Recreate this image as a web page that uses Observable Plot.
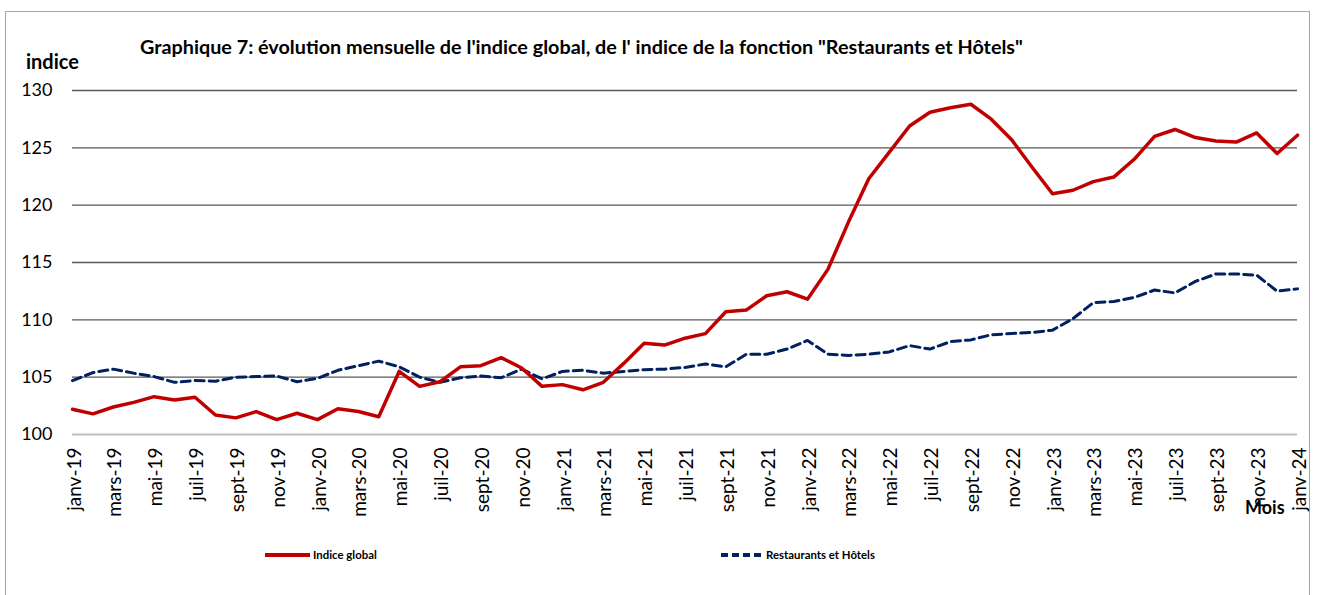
<!DOCTYPE html>
<html><head><meta charset="utf-8">
<script src="https://cdn.jsdelivr.net/npm/d3@7"></script>
<script src="https://cdn.jsdelivr.net/npm/@observablehq/plot@0.6"></script>
<style>
body{margin:0;background:#fff;}
#wrap{position:relative;width:1318px;height:595px;overflow:hidden;font-family:Lato,sans-serif;color:#000;}
#frame{position:absolute;left:5px;top:11px;width:1305px;height:640px;border:1px solid #a6a6a6;box-sizing:border-box;}
#chart{position:absolute;left:0;top:0;}
.t{position:absolute;white-space:nowrap;font-weight:bold;line-height:1;}
#title{left:140px;top:37px;font-size:19.8px;}
#ylab{left:26px;top:51px;font-size:20px;}
#xlab{left:1245px;top:498px;font-size:18px;}
.leg{position:absolute;font-weight:bold;font-size:11.4px;line-height:1;white-space:nowrap;display:flex;align-items:center;}
.leg svg{margin-right:3px;}
</style></head>
<body><div id="wrap">
<div id="frame"></div>
<div id="chart"></div>
<div class="t" id="title">Graphique 7: évolution mensuelle de l'indice global, de l' indice de la fonction "Restaurants et Hôtels"</div>
<div class="t" id="ylab">indice</div>
<div class="t" id="xlab">Mois</div>
<div class="leg" id="leg1" style="left:265px;top:549px;"></div>
<div class="leg" id="leg2" style="left:721px;top:549px;"></div>
</div>
<script>
const monthNames = ["janv","févr","mars","avr","mai","juin","juil","août","sept","oct","nov","déc"];
const years = ["19","20","21","22","23","24"];
const months = [];
years.forEach(y => monthNames.forEach(m => months.push(m + "-" + y)));
months.length = 61; // janv-19 .. janv-24

const indiceGlobal = [
  102.2, 101.8, 102.4, 102.8, 103.3, 103.0, 103.25, 101.7, 101.45, 102.0, 101.3, 101.85,
  101.3, 102.25, 102.0, 101.55, 105.5, 104.2, 104.6, 105.9, 106.0, 106.7, 105.8, 104.2,
  104.35, 103.9, 104.55, 106.2, 107.95, 107.8, 108.4, 108.8, 110.7, 110.85, 112.1, 112.45,
  111.8, 114.4, 118.5, 122.3, 124.6, 126.9, 128.1, 128.5, 128.8, 127.5, 125.7, 123.3,
  121.0, 121.3, 122.05, 122.45, 124.0, 126.0, 126.6, 125.9, 125.6, 125.5, 126.3, 124.5,
  126.1
];
const restaurantsHotels = [
  104.7, 105.4, 105.7, 105.35, 105.05, 104.55, 104.7, 104.65, 105.0, 105.05, 105.1, 104.6,
  104.9, 105.6, 106.0, 106.4, 105.9, 105.0, 104.55, 104.95, 105.1, 104.95, 105.7, 104.85,
  105.5, 105.6, 105.35, 105.5, 105.65, 105.7, 105.85, 106.15, 105.9, 107.0, 107.0, 107.45,
  108.2, 107.0, 106.9, 107.0, 107.2, 107.75, 107.45, 108.1, 108.25, 108.7, 108.8, 108.9,
  109.1, 110.1, 111.5, 111.6, 111.95, 112.6, 112.35, 113.35, 114.0, 114.0, 113.9, 112.5,
  112.7
];
const yTicks = [100, 105, 110, 115, 120, 125, 130];
const xTicks = months.filter((d, i) => i % 2 === 0);
const seriesNames = ["Indice global", "Restaurants et Hôtels"];
const seriesColors = ["#c00000", "#002060"];

const data = months.map((m, i) => ({mois: m, global: indiceGlobal[i], resto: restaurantsHotels[i]}));

const chart = Plot.plot({
  width: 1318, height: 595,
  marginLeft: 72, marginRight: 21, marginTop: 90, marginBottom: 161,
  style: {fontFamily: "Lato, sans-serif", color: "#000", background: "transparent", overflow: "visible"},
  x: {type: "point", domain: months, padding: 0, round: false},
  y: {domain: [100, 130]},
  marks: [
    Plot.ruleY(yTicks.filter(v => v > 100), {stroke: "#595959", strokeWidth: 1.3}),
    Plot.ruleY([100], {stroke: "#c0c0c0", strokeWidth: 2}),
    Plot.axisY({ticks: yTicks, tickSize: 0, tickPadding: 20, fontSize: 18, label: null}),
    Plot.axisX({ticks: xTicks, tickSize: 0, tickRotate: -90, tickPadding: 13, fontSize: 19, dx: 2, label: null}),
    Plot.line(data, {x: "mois", y: "resto", stroke: seriesColors[1], strokeWidth: 3, strokeDasharray: "9,5"}),
    Plot.line(data, {x: "mois", y: "global", stroke: seriesColors[0], strokeWidth: 3.5})
  ]
});
document.getElementById("chart").appendChild(chart);

function legendItem(id, color, dash, name) {
  const el = document.getElementById(id);
  const w = dash ? 42 : 45;
  el.innerHTML = `<svg width="${w}" height="8"><line x1="0" y1="4" x2="${w}" y2="4" stroke="${color}" stroke-width="4" ${dash ? 'stroke-dasharray="7,4"' : ''}/></svg><span>${name}</span>`;
}
legendItem("leg1", seriesColors[0], false, seriesNames[0]);
legendItem("leg2", seriesColors[1], true, seriesNames[1]);
</script>
</body></html>
